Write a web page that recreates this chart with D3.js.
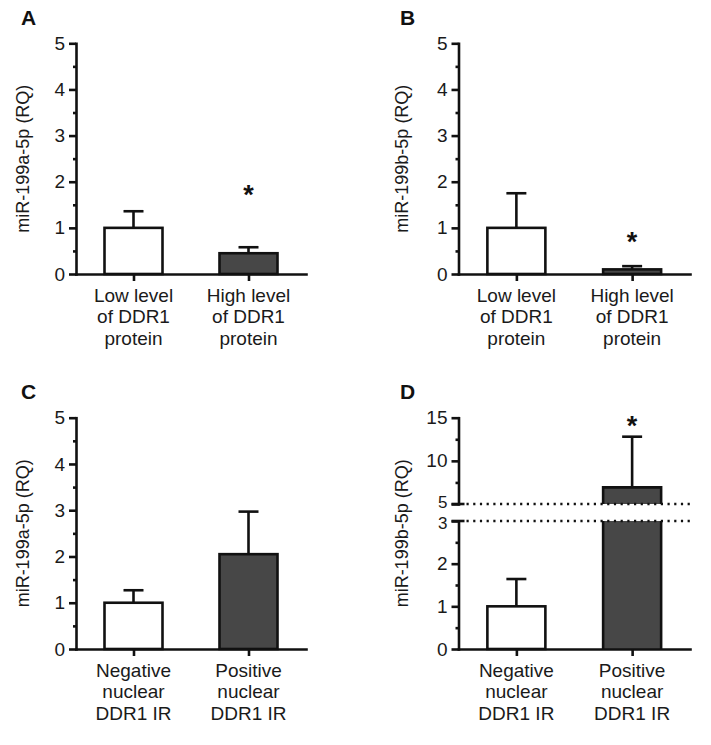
<!DOCTYPE html>
<html>
<head>
<meta charset="utf-8">
<script src="https://cdn.jsdelivr.net/npm/d3@7"></script>
<style>
  html, body { margin: 0; padding: 0; background: #fff; }
  svg { display: block; font-family: "Liberation Sans", Arial, sans-serif; }
</style>
</head>
<body>
<svg id="chart" width="711" height="745"></svg>
<script>
// ---------- data ----------
const labelsProtein = [["Low level", "of DDR1", "protein"], ["High level", "of DDR1", "protein"]];
const labelsNuclear = [["Negative", "nuclear", "DDR1 IR"], ["Positive", "nuclear", "DDR1 IR"]];
const groupKeys = ["low", "high"];

const meanA = [1.0, 0.45];
const semA  = [0.36, 0.13];
const sigA  = [null, 1.86];

const meanB = [1.0, 0.10];
const semB  = [0.75, 0.07];
const sigB  = [null, 0.84];

const meanC = [1.0, 2.05];
const semC  = [0.27, 0.92];
const sigC  = [null, null];

const meanD = [1.0, 6.93];
const semD  = [0.64, 5.87];
const sigD  = [null, 14.8];

const ticksStd = [0, 1, 2, 3, 4, 5];
const minorStd = [0.5, 1.5, 2.5, 3.5, 4.5];
const ticksDLow = [0, 1, 2, 3];
const minorDLow = [0.5, 1.5, 2.5];
const ticksDHigh = [5, 10, 15];
const minorDHigh = [7.5, 12.5];

const titles = ["miR-199a-5p (RQ)", "miR-199b-5p (RQ)", "miR-199a-5p (RQ)", "miR-199b-5p (RQ)"];
const letters = ["A", "B", "C", "D"];
const fills = ["#ffffff", "#474747"];

// ---------- layout ----------
const svg = d3.select("#chart");
const INK = "#111";
const AXW = 2.6;
const BARW = 58;
const CAPW = 20;

const panels = [
  { letter: letters[0], title: titles[0], mean: meanA, sem: semA, sig: sigA, labels: labelsProtein,
    axisX: 76, xEnd: 306, y0: 274, yTop: 43.3, titleX: 29, letterX: 21, letterY: 25 },
  { letter: letters[1], title: titles[1], mean: meanB, sem: semB, sig: sigB, labels: labelsProtein,
    axisX: 458.5, xEnd: 690, y0: 274, yTop: 43.3, titleX: 408, letterX: 400, letterY: 25 },
  { letter: letters[2], title: titles[2], mean: meanC, sem: semC, sig: sigC, labels: labelsNuclear,
    axisX: 76, xEnd: 306, y0: 649, yTop: 417.7, titleX: 29, letterX: 21, letterY: 399 },
  { letter: letters[3], title: titles[3], mean: meanD, sem: semD, sig: sigD, labels: labelsNuclear,
    axisX: 458.5, xEnd: 690, y0: 649, yTop: 417.7, titleX: 408, letterX: 400, letterY: 399, broken: true,
    yLowTop: 521, yHighBottom: 504 }
];

function styleAxis(g, showDomain) {
  g.select(".domain").attr("stroke", INK).attr("stroke-width", AXW).attr("stroke-linecap", "square");
  if (!showDomain) g.select(".domain").remove();
  g.selectAll(".tick line").attr("stroke", INK).attr("stroke-width", AXW);
  g.selectAll(".tick text").attr("fill", "#1a1a1a").attr("font-size", 19)
    .attr("font-family", "'Liberation Sans', Arial, sans-serif");
}

function drawYAxis(p, scale, majors, minors) {
  const gMaj = svg.append("g").attr("transform", `translate(${p.axisX},0)`)
    .call(d3.axisLeft(scale).tickValues(majors).tickSize(7).tickSizeOuter(0).tickPadding(4).tickFormat(d3.format("d")));
  styleAxis(gMaj, true);
  const gMin = svg.append("g").attr("transform", `translate(${p.axisX},0)`)
    .call(d3.axisLeft(scale).tickValues(minors).tickSize(3).tickSizeOuter(0).tickFormat(""));
  styleAxis(gMin, false);
  return gMaj;
}

panels.forEach(p => {
  const x = d3.scalePoint().domain(groupKeys).range([p.axisX, p.xEnd]).padding(0.5);

  let yLow, yHigh, y;
  if (p.broken) {
    yLow = d3.scaleLinear().domain([0, 3]).range([p.y0, p.yLowTop]);
    yHigh = d3.scaleLinear().domain([5, 15]).range([p.yHighBottom, p.yTop]);
    y = v => (v <= 3 ? yLow(v) : v >= 5 ? yHigh(v) : NaN);
  } else {
    y = d3.scaleLinear().domain([0, 5]).range([p.y0, p.yTop]);
  }

  // bars
  p.mean.forEach((m, i) => {
    const cx = x(groupKeys[i]);
    const x0 = cx - BARW / 2, x1 = cx + BARW / 2;
    const top = m + p.sem[i];
    svg.append("line").attr("x1", cx).attr("x2", cx).attr("y1", y(m)).attr("y2", y(top))
      .attr("stroke", INK).attr("stroke-width", AXW);
    svg.append("line").attr("x1", cx - CAPW / 2).attr("x2", cx + CAPW / 2).attr("y1", y(top)).attr("y2", y(top))
      .attr("stroke", INK).attr("stroke-width", AXW);

    if (p.broken && m > 5) {
      svg.append("rect").attr("x", x0).attr("width", BARW)
        .attr("y", yLow(3)).attr("height", yLow(0) - yLow(3)).attr("fill", fills[i]);
      svg.append("path").attr("d", `M${x0},${yLow(0)}V${yLow(3)}M${x1},${yLow(0)}V${yLow(3)}`)
        .attr("stroke", INK).attr("stroke-width", AXW).attr("fill", "none");
      svg.append("rect").attr("x", x0).attr("width", BARW)
        .attr("y", yHigh(m)).attr("height", yHigh(5) - yHigh(m)).attr("fill", fills[i]);
      svg.append("path").attr("d", `M${x0},${yHigh(5)}V${yHigh(m)}H${x1}V${yHigh(5)}`)
        .attr("stroke", INK).attr("stroke-width", AXW).attr("fill", "none").attr("stroke-linejoin", "miter");
    } else {
      svg.append("rect").attr("x", x0).attr("width", BARW)
        .attr("y", y(m)).attr("height", y(0) - y(m))
        .attr("fill", fills[i]).attr("stroke", INK).attr("stroke-width", AXW);
    }

    if (p.sig[i] != null) {
      const fs = 27;
      svg.append("text").attr("x", cx).attr("y", y(p.sig[i]) + 0.58 * fs)
        .attr("text-anchor", "middle").attr("font-size", fs).attr("font-weight", "bold")
        .attr("fill", INK).text("*");
    }
  });

  // y axis
  if (p.broken) {
    drawYAxis(p, yLow, ticksDLow, minorDLow)
      .selectAll(".tick").filter(d => d === 3).select("text")
      .attr("font-size", 17).attr("dy", "0.42em");
    drawYAxis(p, yHigh, ticksDHigh, minorDHigh)
      .selectAll(".tick").filter(d => d === 5).select("text")
      .attr("font-size", 17).attr("dy", "0.22em");
    [yHigh(5), yLow(3)].forEach(yy => {
      svg.append("line").attr("x1", p.axisX - 7).attr("x2", p.axisX + 6).attr("y1", yy).attr("y2", yy)
        .attr("stroke", INK).attr("stroke-width", AXW);
      svg.append("line").attr("x1", p.axisX + 8).attr("x2", p.xEnd).attr("y1", yy).attr("y2", yy)
        .attr("stroke", INK).attr("stroke-width", 2.4).attr("stroke-dasharray", "2.2,4.5");
    });
  } else {
    drawYAxis(p, y, ticksStd, minorStd);
  }

  // x axis
  const gx = svg.append("g").attr("transform", `translate(0,${p.y0})`)
    .call(d3.axisBottom(x).tickSize(7).tickSizeOuter(0).tickFormat(""));
  styleAxis(gx, true);

  // x category labels
  p.labels.forEach((lines, i) => {
    const t = svg.append("text").attr("text-anchor", "middle").attr("font-size", 19).attr("fill", "#1a1a1a");
    lines.forEach((ln, k) => {
      t.append("tspan").attr("x", x(groupKeys[i])).attr("y", p.y0 + 27.5 + k * 21.8).text(ln);
    });
  });

  // y title
  svg.append("text")
    .attr("transform", `translate(${p.titleX},${(p.y0 + p.yTop) / 2}) rotate(-90)`)
    .attr("text-anchor", "middle").attr("font-size", 18).attr("fill", "#1a1a1a").text(p.title);

  // panel letter
  svg.append("text").attr("x", p.letterX).attr("y", p.letterY)
    .attr("font-size", 21).attr("font-weight", "bold").attr("fill", INK).text(p.letter);
});
</script>
</body>
</html>
